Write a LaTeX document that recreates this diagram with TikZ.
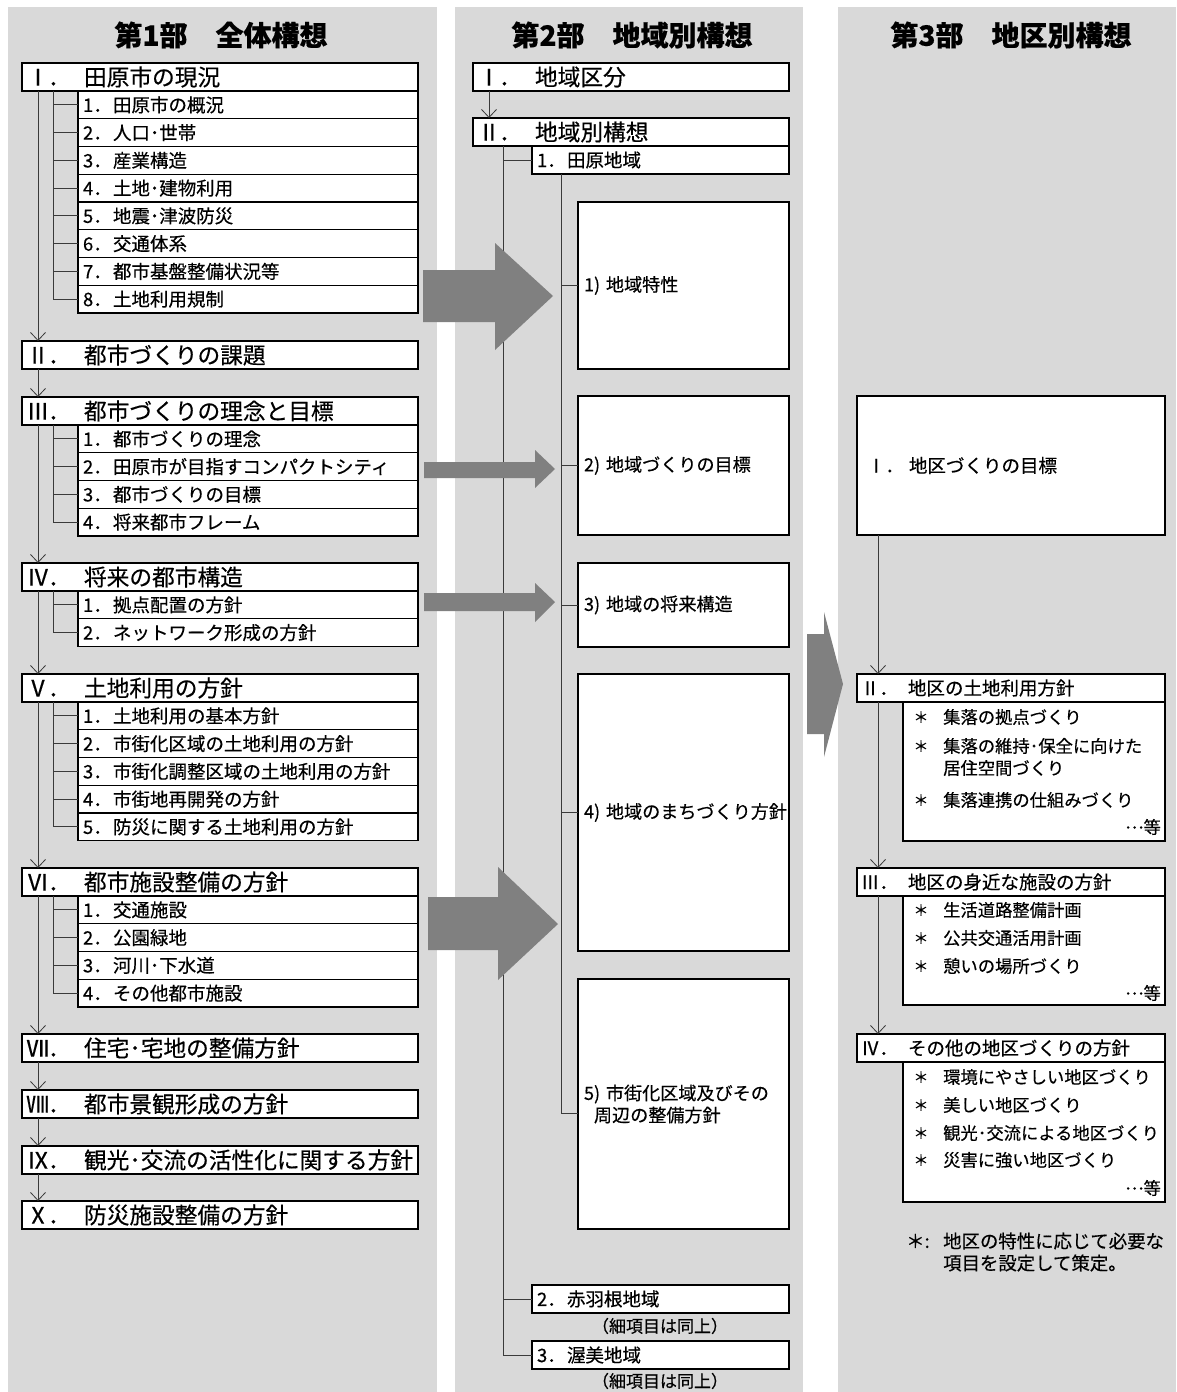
\documentclass[tikz,border=0pt]{standalone}
\usepackage{fontspec}
\setmainfont{Noto Sans CJK JP}[FakeBold=0.4]
\usetikzlibrary{arrows.meta}
\definecolor{panel}{HTML}{D9D9D9}
\definecolor{bigarrow}{HTML}{808080}
\definecolor{linec}{HTML}{3A3A3A}
\newcommand\mainlbl[2]{\makebox[20pt][c]{#1}\makebox[36pt][l]{．}#2}
\newcommand\sublbl[2]{\makebox[30pt][l]{#1．}#2}
\newcommand\etc{\raisebox{0.3em}{…}等}
\begin{document}
\begin{tikzpicture}[x=1pt,y=-1pt,
  box/.style={draw=black, line width=1.4pt, fill=white, anchor=north west, inner ysep=0pt, outer sep=0pt, align=left},
  mainf/.style={font=\fontsize{22.7}{26}\selectfont},
  subf/.style={font=\fontsize{18.5}{22}\selectfont},
  c1main/.style={box, mainf, inner xsep=6pt, text width=384pt, minimum height=28pt},
  c1sub/.style={box, subf, inner xsep=5pt, text width=330pt, minimum height=27.75pt},
  c2main/.style={box, mainf, inner xsep=6pt, text width=304pt, minimum height=28pt},
  c2sub/.style={box, subf, inner xsep=5pt, text width=247pt, minimum height=28pt},
  c2big/.style={box, font=\fontsize{18.1}{22}\selectfont, inner xsep=6pt, text width=199pt},
  c3main/.style={box, subf, inner xsep=4pt, text width=300pt, minimum height=28pt},
  c3sub/.style={box, inner sep=0pt, minimum width=262pt},
  item/.style={anchor=west, inner sep=0pt, font=\fontsize{17.3}{21}\selectfont},
  note/.style={anchor=west, inner sep=0pt, font=\fontsize{18.4}{22}\selectfont},
  star/.style={anchor=center, inner sep=0pt, font=\fontsize{15}{18}\selectfont},
  title/.style={inner sep=0pt, font=\bfseries\fontsize{28}{32}\selectfont},
  capt/.style={inner sep=0pt, font=\fontsize{17}{20}\selectfont},
  conn/.style={draw=linec, line width=0.9pt},
  arr/.style={conn, -{Straight Barb[length=8pt,width=15pt,line width=0.8pt]}},
  block/.style={fill=bigarrow, draw=none}
]
\useasboundingbox (0,0) rectangle (1176,1392);
% panels
\fill[panel] (8,7) rectangle (437,1392);
\fill[panel] (455,7) rectangle (803,1392);
\fill[panel] (838,7) rectangle (1176,1392);

% titles
\node[title] (h1) at (221,35) {第1部　全体構想};
\node[title] (h2) at (632,35) {第2部　地域別構想};
\node[title] (h3) at (1011,35) {第3部　地区別構想};

% ---------- column 1 ----------
\coordinate (t1) at (38,0);
\coordinate (i1) at (53,0);
\node[c1main] (c1I) at (22,63) {\mainlbl{Ⅰ}{田原市の現況}};
\node[c1sub] (c1a1) at ([xshift=56pt]c1I.south west) {\sublbl{1}{田原市の概況}};
\node[c1sub] (c1a2) at (c1a1.south west) {\sublbl{2}{人口･世帯}};
\node[c1sub] (c1a3) at (c1a2.south west) {\sublbl{3}{産業構造}};
\node[c1sub] (c1a4) at (c1a3.south west) {\sublbl{4}{土地･建物利用}};
\node[c1sub] (c1a5) at (c1a4.south west) {\sublbl{5}{地震･津波防災}};
\node[c1sub] (c1a6) at (c1a5.south west) {\sublbl{6}{交通体系}};
\node[c1sub] (c1a7) at (c1a6.south west) {\sublbl{7}{都市基盤整備状況等}};
\node[c1sub] (c1a8) at (c1a7.south west) {\sublbl{8}{土地利用規制}};

\node[c1main] (c1II) at (22,341) {\mainlbl{Ⅱ}{都市づくりの課題}};

\node[c1main] (c1III) at (22,397) {\mainlbl{Ⅲ}{都市づくりの理念と目標}};
\node[c1sub] (c1c1) at ([xshift=56pt]c1III.south west) {\sublbl{1}{都市づくりの理念}};
\node[c1sub] (c1c2) at (c1c1.south west) {\sublbl{2}{田原市が目指すコンパクトシティ}};
\node[c1sub] (c1c3) at (c1c2.south west) {\sublbl{3}{都市づくりの目標}};
\node[c1sub] (c1c4) at (c1c3.south west) {\sublbl{4}{将来都市フレーム}};

\node[c1main] (c1IV) at (22,563) {\mainlbl{Ⅳ}{将来の都市構造}};
\node[c1sub] (c1d1) at ([xshift=56pt]c1IV.south west) {\sublbl{1}{拠点配置の方針}};
\node[c1sub] (c1d2) at (c1d1.south west) {\sublbl{2}{ネットワーク形成の方針}};

\node[c1main] (c1V) at (22,674) {\mainlbl{Ⅴ}{土地利用の方針}};
\node[c1sub] (c1e1) at ([xshift=56pt]c1V.south west) {\sublbl{1}{土地利用の基本方針}};
\node[c1sub] (c1e2) at (c1e1.south west) {\sublbl{2}{市街化区域の土地利用の方針}};
\node[c1sub] (c1e3) at (c1e2.south west) {\sublbl{3}{市街化調整区域の土地利用の方針}};
\node[c1sub] (c1e4) at (c1e3.south west) {\sublbl{4}{市街地再開発の方針}};
\node[c1sub] (c1e5) at (c1e4.south west) {\sublbl{5}{防災に関する土地利用の方針}};

\node[c1main] (c1VI) at (22,868) {\mainlbl{Ⅵ}{都市施設整備の方針}};
\node[c1sub] (c1f1) at ([xshift=56pt]c1VI.south west) {\sublbl{1}{交通施設}};
\node[c1sub] (c1f2) at (c1f1.south west) {\sublbl{2}{公園緑地}};
\node[c1sub] (c1f3) at (c1f2.south west) {\sublbl{3}{河川･下水道}};
\node[c1sub] (c1f4) at (c1f3.south west) {\sublbl{4}{その他都市施設}};

\node[c1main] (c1VII) at (22,1034) {\mainlbl{Ⅶ}{住宅･宅地の整備方針}};
\node[c1main] (c1VIII) at (22,1090) {\mainlbl{Ⅷ}{都市景観形成の方針}};
\node[c1main] (c1IX) at (22,1146) {\mainlbl{Ⅸ}{観光･交流の活性化に関する方針}};
\node[c1main] (c1X) at (22,1201) {\mainlbl{Ⅹ}{防災施設整備の方針}};

% column 1 trunk
\draw[arr] (c1I.south -| t1) -- (c1II.north -| t1);
\draw[arr] (c1II.south -| t1) -- (c1III.north -| t1);
\draw[arr] (c1III.south -| t1) -- (c1IV.north -| t1);
\draw[arr] (c1IV.south -| t1) -- (c1V.north -| t1);
\draw[arr] (c1V.south -| t1) -- (c1VI.north -| t1);
\draw[arr] (c1VI.south -| t1) -- (c1VII.north -| t1);
\draw[arr] (c1VII.south -| t1) -- (c1VIII.north -| t1);
\draw[arr] (c1VIII.south -| t1) -- (c1IX.north -| t1);
\draw[arr] (c1IX.south -| t1) -- (c1X.north -| t1);
% column 1 branches
\draw[conn] (c1I.south -| i1) |- (c1a8.west);
\foreach \n in {a1,a2,a3,a4,a5,a6,a7} \draw[conn] (c1\n.west -| i1) -- (c1\n.west);
\draw[conn] (c1III.south -| i1) |- (c1c4.west);
\foreach \n in {c1,c2,c3} \draw[conn] (c1\n.west -| i1) -- (c1\n.west);
\draw[conn] (c1IV.south -| i1) |- (c1d2.west);
\draw[conn] (c1d1.west -| i1) -- (c1d1.west);
\draw[conn] (c1V.south -| i1) |- (c1e5.west);
\foreach \n in {e1,e2,e3,e4} \draw[conn] (c1\n.west -| i1) -- (c1\n.west);
\draw[conn] (c1VI.south -| i1) |- (c1f4.west);
\foreach \n in {f1,f2,f3} \draw[conn] (c1\n.west -| i1) -- (c1\n.west);

% ---------- column 2 ----------
\coordinate (t2a) at (489,0);
\coordinate (t2) at (503,0);
\coordinate (i2) at (561,0);
\node[c2main] (c2I) at (473,63) {\mainlbl{Ⅰ}{地域区分}};
\node[c2main] (c2II) at (473,118) {\mainlbl{Ⅱ}{地域別構想}};
\node[c2sub] (c2s1) at (532,146) {\sublbl{1}{田原地域}};
\node[c2big, minimum height=167pt] (c2b1) at (578,202) {\makebox[22pt][l]{1)}地域特性};
\node[c2big, minimum height=139pt] (c2b2) at (578,396) {\makebox[22pt][l]{2)}地域づくりの目標};
\node[c2big, minimum height=84pt] (c2b3) at (578,563) {\makebox[22pt][l]{3)}地域の将来構造};
\node[c2big, minimum height=277pt] (c2b4) at (578,674) {\makebox[22pt][l]{4)}地域のまちづくり方針};
\node[c2big, minimum height=250pt] (c2b5) at (578,979) {\makebox[22pt][l]{5)}市街化区域及びその\\\hspace*{10pt}周辺の整備方針};
\node[c2sub] (c2s2) at (532,1285) {\sublbl{2}{赤羽根地域}};
\node[capt] (cap2) at (660,1326) {（細項目は同上）};
\node[c2sub] (c2s3) at (532,1341) {\sublbl{3}{渥美地域}};
\node[capt] (cap3) at (660,1381) {（細項目は同上）};

\draw[arr] (c2I.south -| t2a) -- (c2II.north -| t2a);
\draw[conn] (c2II.south -| t2) |- (c2s3.west);
\draw[conn] (c2s1.west -| t2) -- (c2s1.west);
\draw[conn] (c2s2.west -| t2) -- (c2s2.west);
\draw[conn] (c2s1.south -| i2) |- ([yshift=-9pt]c2b5.west);
\foreach \n in {b1,b2,b3,b4} \draw[conn] (c2\n.west -| i2) -- (c2\n.west);

% ---------- column 3 ----------
\coordinate (t3) at (878,0);
\node[c3main, inner xsep=10pt, text width=288pt, minimum height=139pt] (c3I) at (857,396) {\makebox[42pt][l]{Ⅰ．}地区づくりの目標};
\node[c3main] (c3II) at (857,674) {\makebox[47pt][l]{Ⅱ．}地区の土地利用方針};
\node[c3sub, minimum height=139pt] (c3IIs) at (903,702) {};
\node[c3main] (c3III) at (857,868) {\makebox[47pt][l]{Ⅲ．}地区の身近な施設の方針};
\node[c3sub, minimum height=109pt] (c3IIIs) at (903,896) {};
\node[c3main] (c3IV) at (857,1034) {\makebox[47pt][l]{Ⅳ．}その他の地区づくりの方針};
\node[c3sub, minimum height=140pt] (c3IVs) at (903,1062) {};

\draw[arr] (c3I.south -| t3) -- (c3II.north -| t3);
\draw[arr] (c3II.south -| t3) -- (c3III.north -| t3);
\draw[arr] (c3III.south -| t3) -- (c3IV.north -| t3);

% items II
\node[star] (s21) at (921,717) {＊};
\node[item] (x21) at (943,717) {集落の拠点づくり};
\node[star] (s22) at (921,746) {＊};
\node[item] (x22) at (943,746) {集落の維持･保全に向けた};
\node[item] (x22b) at (943,768) {居住空間づくり};
\node[star] (s23) at (921,800) {＊};
\node[item] (x23) at (943,800) {集落連携の仕組みづくり};
\node[item, anchor=east] (e2) at (1161,827) {\etc};
% items III
\node[star] (s31) at (921,910) {＊};
\node[item] (x31) at (943,910) {生活道路整備計画};
\node[star] (s32) at (921,938) {＊};
\node[item] (x32) at (943,938) {公共交通活用計画};
\node[star] (s33) at (921,966) {＊};
\node[item] (x33) at (943,966) {憩いの場所づくり};
\node[item, anchor=east] (e3) at (1161,993) {\etc};
% items IV
\node[star] (s41) at (921,1077) {＊};
\node[item] (x41) at (943,1077) {環境にやさしい地区づくり};
\node[star] (s42) at (921,1105) {＊};
\node[item] (x42) at (943,1105) {美しい地区づくり};
\node[star] (s43) at (921,1133) {＊};
\node[item] (x43) at (943,1133) {観光･交流による地区づくり};
\node[star] (s44) at (921,1160) {＊};
\node[item] (x44) at (943,1160) {災害に強い地区づくり};
\node[item, anchor=east] (e4) at (1161,1188) {\etc};
% footnote
\node[note] (fn0) at (906,1241) {＊:};
\node[note] (fn1) at (943,1241) {地区の特性に応じて必要な};
\node[note] (fn2) at (943,1263) {項目を設定して策定。};

% ---------- big arrows ----------
\fill[block] (423,270) -- (495,270) -- (495,243) -- (553,296) -- (495,350) -- (495,322) -- (423,322) -- cycle;
\fill[block] (424,462) -- (535,462) -- (535,450) -- (555,469) -- (535,488) -- (535,478) -- (424,478) -- cycle;
\fill[block] (424,593) -- (535,593) -- (535,583) -- (555,602) -- (535,622) -- (535,611) -- (424,611) -- cycle;
\fill[block] (428,897) -- (498,897) -- (498,867) -- (558,924) -- (498,980) -- (498,950) -- (428,950) -- cycle;
\fill[block] (807,634) -- (824,634) -- (824,612) -- (843,684) -- (824,757) -- (824,734) -- (807,734) -- cycle;
\end{tikzpicture}
\end{document}
